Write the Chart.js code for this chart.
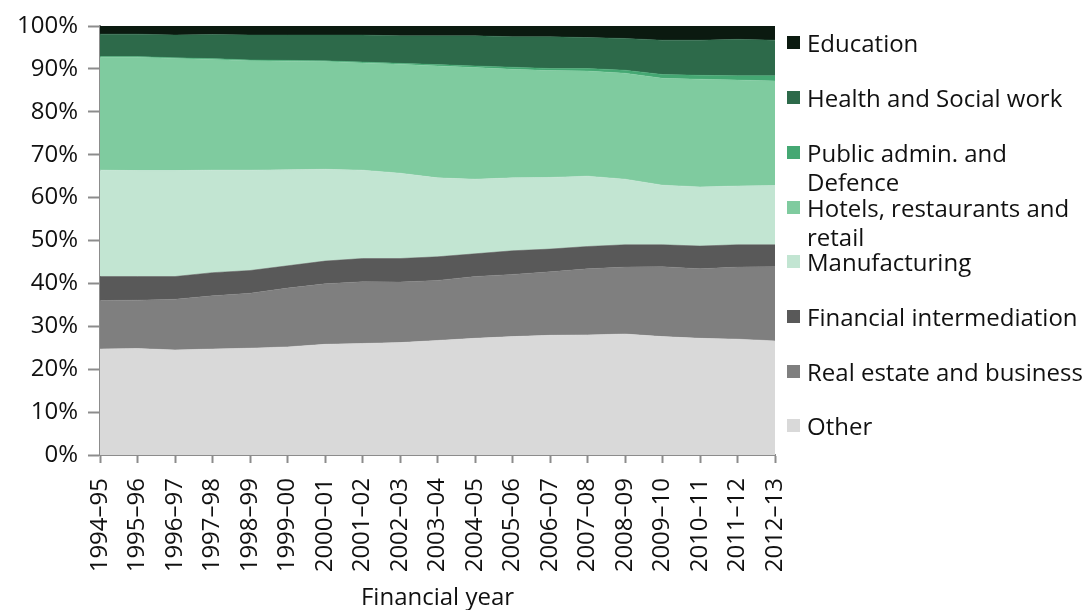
<!DOCTYPE html>
<html lang="en">
<head>
    <meta charset="UTF-8">
    <title>Share by sector</title>
    <script src="https://cdn.jsdelivr.net/npm/chart.js"></script>
    <style>
        body {
            margin: 0;
            padding: 0;
            background: #ffffff;
            font-family: "Open Sans", sans-serif;
            overflow: hidden;
        }
        .wrap {
            position: relative;
            width: 1087px;
            height: 610px;
        }
        #legend {
            position: absolute;
            left: 787px;
            top: 0;
            font-size: 24px;
            line-height: 29px;
            color: #111;
        }
        .item {
            position: absolute;
            left: 0;
            white-space: pre;
        }
        .box {
            position: absolute;
            left: 0;
            top: 8px;
            width: 13px;
            height: 13px;
        }
        .txt {
            position: absolute;
            left: 20px;
            top: 0;
        }
    </style>
</head>
<body>
<div class="wrap">
    <canvas id="chart" width="1087" height="610"></canvas>
    <div id="legend"></div>
</div>

<script>
    const years = ['1994–95', '1995–96', '1996–97', '1997–98', '1998–99', '1999–00', '2000–01',
        '2001–02', '2002–03', '2003–04', '2004–05', '2005–06', '2006–07', '2007–08',
        '2008–09', '2009–10', '2010–11', '2011–12', '2012–13'];

    // shares in %, bottom of the stack first
    const other = [24.7, 24.8, 24.5, 24.7, 24.9, 25.2, 25.8, 26.0, 26.2, 26.7, 27.2, 27.6, 27.9, 28.0, 28.2, 27.6, 27.2, 27.0, 26.6];
    const realEstate = [11.3, 11.3, 11.8, 12.4, 12.8, 13.7, 14.1, 14.4, 14.1, 14.0, 14.4, 14.5, 14.8, 15.4, 15.6, 16.3, 16.2, 16.8, 17.3];
    const financial = [5.6, 5.5, 5.3, 5.4, 5.3, 5.2, 5.3, 5.4, 5.5, 5.5, 5.3, 5.5, 5.3, 5.2, 5.2, 5.1, 5.3, 5.2, 5.1];
    const manufacturing = [24.8, 24.7, 24.7, 23.9, 23.4, 22.4, 21.4, 20.6, 19.9, 18.4, 17.4, 17.0, 16.7, 16.4, 15.3, 13.9, 13.8, 13.7, 13.8];
    const hotels = [26.3, 26.4, 26.1, 25.8, 25.5, 25.3, 25.1, 25.0, 25.4, 26.1, 26.0, 25.3, 24.9, 24.5, 24.7, 24.9, 25.1, 24.7, 24.4];
    const publicAdmin = [0.2, 0.2, 0.2, 0.2, 0.2, 0.2, 0.2, 0.2, 0.2, 0.3, 0.4, 0.5, 0.5, 0.6, 0.7, 0.9, 0.9, 1.0, 1.2];
    const health = [5.2, 5.2, 5.3, 5.6, 5.8, 5.9, 6.0, 6.3, 6.4, 6.7, 7.0, 7.1, 7.4, 7.2, 7.4, 8.0, 8.2, 8.5, 8.3];
    const education = [1.9, 1.9, 2.1, 2.0, 2.1, 2.1, 2.1, 2.1, 2.3, 2.3, 2.3, 2.5, 2.5, 2.7, 2.9, 3.3, 3.3, 3.1, 3.3];

    const yTicks = [0, 10, 20, 30, 40, 50, 60, 70, 80, 90, 100];

    const series = [
        { name: 'Other', data: other, color: '#d9d9d9' },
        { name: 'Real estate and business', data: realEstate, color: '#7f7f7f' },
        { name: 'Financial intermediation', data: financial, color: '#595959' },
        { name: 'Manufacturing', data: manufacturing, color: '#c2e5d2' },
        { name: 'Hotels, restaurants and\nretail', data: hotels, color: '#7fcb9f' },
        { name: 'Public admin. and\nDefence', data: publicAdmin, color: '#45a873' },
        { name: 'Health and Social work', data: health, color: '#2d6a4a' },
        { name: 'Education', data: education, color: '#0b1a10' }
    ];

    const font = { family: '"Open Sans", sans-serif', size: 24 };
    const axisGrey = '#8c8c8c';

    new Chart(document.getElementById('chart'), {
        type: 'line',
        data: {
            labels: years,
            datasets: series.map((s, i) => ({
                label: s.name.replace('\n', ' '),
                data: s.data,
                backgroundColor: s.color,
                borderColor: s.color,
                borderWidth: 0.5,
                pointRadius: 0,
                tension: 0,
                fill: i === 0 ? 'origin' : '-1'
            }))
        },
        options: {
            responsive: false,
            animation: false,
            layout: { padding: { left: 0, top: 26, right: 312, bottom: 0 } },
            plugins: {
                legend: { display: false },
                tooltip: { enabled: false }
            },
            scales: {
                x: {
                    offset: false,
                    grid: { drawOnChartArea: false, tickLength: 8, tickColor: axisGrey, tickWidth: 2, offset: false },
                    border: { color: axisGrey, width: 2 },
                    ticks: { color: '#111', font: font, maxRotation: 90, minRotation: 90, autoSkip: false, padding: 15 },
                    title: {
                        display: true, text: 'Financial year', color: '#111',
                        font: { family: font.family, size: 24, lineHeight: 1.0 },
                        padding: { top: 0, bottom: 0 }
                    },
                    afterFit: scale => { scale.height = 155; }
                },
                y: {
                    stacked: true,
                    min: 0,
                    max: 100,
                    afterBuildTicks: scale => { scale.ticks = yTicks.map(v => ({ value: v })); },
                    grid: { drawOnChartArea: false, tickLength: 12, tickColor: axisGrey, tickWidth: 2 },
                    border: { color: axisGrey, width: 2 },
                    ticks: { color: '#111', font: font, padding: 10, callback: v => v + '%' },
                    afterFit: scale => { scale.width = 100; }
                }
            }
        }
    });

    // legend on the right, top item is the top of the stack
    const legendTops = [42, 97, 152, 207, 261, 316, 371, 425];
    const legend = document.getElementById('legend');
    series.slice().reverse().forEach((s, i) => {
        const item = document.createElement('div');
        item.className = 'item';
        item.style.top = (legendTops[i] - 14.5) + 'px';
        const box = document.createElement('span');
        box.className = 'box';
        box.style.background = s.color;
        const txt = document.createElement('span');
        txt.className = 'txt';
        txt.textContent = s.name;
        item.appendChild(box);
        item.appendChild(txt);
        legend.appendChild(item);
    });
</script>
</body>
</html>
